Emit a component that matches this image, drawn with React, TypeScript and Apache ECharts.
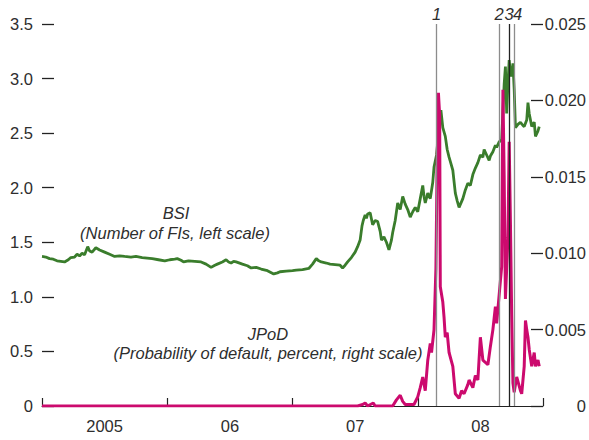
import React, { useEffect, useRef } from "react";
import * as echarts from "echarts";

// X positions are decimal years
const yearLabels = ["2005", "06", "07", "08"];

const bsiT = [
  2005.0, 2005.03, 2005.06, 2005.09, 2005.12, 2005.15, 2005.18, 2005.21, 2005.23, 2005.26,
  2005.28, 2005.3, 2005.32, 2005.34, 2005.365, 2005.38, 2005.4, 2005.43, 2005.46, 2005.5,
  2005.54, 2005.58, 2005.62, 2005.66, 2005.71, 2005.75, 2005.8, 2005.84, 2005.88, 2005.93,
  2005.98, 2006.02, 2006.06, 2006.08, 2006.11, 2006.13, 2006.17, 2006.22, 2006.27, 2006.31,
  2006.35, 2006.38, 2006.4, 2006.44, 2006.47, 2006.49, 2006.51, 2006.53, 2006.55, 2006.6,
  2006.64, 2006.67, 2006.71, 2006.75, 2006.8, 2006.85, 2006.88, 2006.9, 2006.95, 2007.0,
  2007.03, 2007.08, 2007.13, 2007.16, 2007.19, 2007.21, 2007.23, 2007.27, 2007.3, 2007.34,
  2007.38, 2007.4, 2007.42, 2007.44, 2007.47, 2007.5, 2007.52, 2007.54, 2007.555, 2007.565,
  2007.58, 2007.59, 2007.6, 2007.62, 2007.64, 2007.66, 2007.68, 2007.7, 2007.71, 2007.73,
  2007.75, 2007.77, 2007.79, 2007.8, 2007.82, 2007.84, 2007.86, 2007.88, 2007.9, 2007.92,
  2007.94, 2007.96, 2007.98, 2008.0, 2008.02, 2008.04, 2008.05, 2008.06, 2008.08, 2008.1,
  2008.12, 2008.13, 2008.15, 2008.16, 2008.17, 2008.185, 2008.2, 2008.22, 2008.235, 2008.25,
  2008.265, 2008.28, 2008.3, 2008.315, 2008.33, 2008.36, 2008.38, 2008.4, 2008.42, 2008.44,
  2008.46, 2008.48, 2008.5, 2008.52, 2008.53, 2008.55, 2008.57, 2008.58, 2008.6, 2008.62,
  2008.63, 2008.65, 2008.67, 2008.68, 2008.69, 2008.7, 2008.705, 2008.71, 2008.72, 2008.73,
  2008.74, 2008.75, 2008.76, 2008.77, 2008.78, 2008.8, 2008.82, 2008.84, 2008.85, 2008.87,
  2008.88, 2008.89, 2008.9, 2008.91, 2008.93, 2008.94, 2008.96, 2008.97,
];
const bsiV = [
  1.37, 1.365, 1.35, 1.345, 1.33, 1.325, 1.32, 1.34, 1.36, 1.365,
  1.39, 1.375, 1.4, 1.385, 1.46, 1.42, 1.41, 1.45, 1.43, 1.41,
  1.39, 1.37, 1.375, 1.37, 1.365, 1.37, 1.36, 1.355, 1.35, 1.34,
  1.33, 1.34, 1.345, 1.35, 1.335, 1.32, 1.33, 1.325, 1.32, 1.3,
  1.27, 1.29, 1.3, 1.32, 1.34, 1.32, 1.31, 1.325, 1.32, 1.3,
  1.285, 1.265, 1.27, 1.255, 1.24, 1.21, 1.22, 1.23, 1.235, 1.24,
  1.245, 1.25, 1.26, 1.3, 1.35, 1.33, 1.32, 1.31, 1.3, 1.295,
  1.29, 1.265, 1.29, 1.32, 1.36, 1.41, 1.46, 1.52, 1.65, 1.7,
  1.75, 1.72, 1.76, 1.77, 1.66, 1.7, 1.69, 1.6, 1.52, 1.55,
  1.5, 1.43, 1.52, 1.59, 1.7, 1.86, 1.8, 1.92, 1.85, 1.8,
  1.73, 1.78, 1.82, 1.78, 1.9, 2.02, 1.92, 1.86, 1.95, 1.9,
  2.05, 2.19, 2.3, 2.42, 2.55, 2.71, 2.55, 2.47, 2.35, 2.28,
  2.22, 2.16, 1.95, 1.88, 1.82, 1.9, 1.98, 2.04, 2.02, 2.12,
  2.18, 2.23, 2.3, 2.28, 2.35, 2.3, 2.25, 2.29, 2.33, 2.39,
  2.37, 2.42, 2.44, 2.7, 2.95, 3.11, 2.9, 2.68, 2.95, 3.17,
  3.05, 3.02, 3.14, 2.9, 2.55, 2.58, 2.6, 2.57, 2.56, 2.62,
  2.78, 2.68, 2.62, 2.56, 2.6, 2.47, 2.52, 2.56,
];

const jpodT = [
  2005.0, 2007.52, 2007.56, 2007.58, 2007.6, 2007.645, 2007.66, 2007.8, 2007.83, 2007.86,
  2007.88, 2007.9, 2007.97, 2008.0, 2008.02, 2008.04, 2008.06, 2008.08, 2008.1, 2008.11,
  2008.13, 2008.145, 2008.155, 2008.165, 2008.175, 2008.18, 2008.2, 2008.21, 2008.22, 2008.235,
  2008.25, 2008.28, 2008.3, 2008.33, 2008.35, 2008.37, 2008.4, 2008.41, 2008.44, 2008.46,
  2008.48, 2008.5, 2008.52, 2008.56, 2008.58, 2008.6, 2008.62, 2008.63, 2008.66, 2008.67,
  2008.68, 2008.69, 2008.7, 2008.72, 2008.73, 2008.74, 2008.75, 2008.76, 2008.77, 2008.79,
  2008.82, 2008.83, 2008.85, 2008.86, 2008.87, 2008.88, 2008.89, 2008.91, 2008.93, 2008.94,
  2008.96, 2008.97,
];
const jpodV = [
  0, 0, 0.0001, 0.0002, 0, 0.0002, 0, 0, 0.0004, 0.0007,
  0.0003, 0.0001, 0.0001, 0.0006, 0.0012, 0.0019, 0.001, 0.003, 0.0041, 0.0035,
  0.005, 0.009, 0.016, 0.0205, 0.019, 0.0078, 0.0068, 0.0058, 0.0045, 0.0048,
  0.0035, 0.0026, 0.0008, 0.0005, 0.001, 0.0008, 0.0014, 0.0017, 0.0012, 0.002,
  0.0017, 0.0045, 0.003, 0.0027, 0.0039, 0.005, 0.0065, 0.0054, 0.0082, 0.0091,
  0.0207, 0.015, 0.007, 0.011, 0.0173, 0.012, 0.006, 0.0015, 0.0009, 0.0019,
  0.001, 0.0008, 0.0026, 0.0056, 0.005, 0.0045, 0.0037, 0.0026, 0.0035, 0.0026,
  0.003, 0.0026,
];

const eventNames = ["1", "2", "3", "4"];
const eventT = [2008.151, 2008.647, 2008.734, 2008.77];

const FONT = "'Liberation Sans', Arial, sans-serif";
const TXT = "#2e2e2e";

export default function App() {
  const ref = useRef<HTMLDivElement>(null);
  useEffect(() => {
    if (!ref.current) return;
    const chart = echarts.init(ref.current, null, { renderer: "svg" });
    const bsi = bsiT.map((t, i) => [t, bsiV[i]]);
    const jpod = jpodT.map((t, i) => [t, jpodV[i]]);
    const eventStyles = [
      { color: "#8c8c8c", pad: [0, 0, 0, 0] },
      { color: "#8c8c8c", pad: [0, 0, 0, 0] },
      { color: "#222222", pad: [0, 0, 0, 0] },
      { color: "#8c8c8c", pad: [0, 0, 0, 7] },
    ];
    const italic = `italic 16.5px ${FONT}`;
    chart.setOption({
      animation: false,
      textStyle: { fontFamily: FONT },
      grid: { left: 42, right: 43, top: 24, bottom: 34 },
      xAxis: [
        {
          type: "value",
          min: 2005,
          max: 2009,
          interval: 1,
          axisLine: { show: true, lineStyle: { color: "#222", width: 1 } },
          axisTick: { show: true, inside: true, length: 8, lineStyle: { color: "#222", width: 1.2 } },
          axisLabel: { show: false },
          splitLine: { show: false },
        },
        {
          type: "category",
          data: yearLabels,
          boundaryGap: true,
          position: "bottom",
          axisLine: { show: false },
          axisTick: { show: false },
          axisLabel: { margin: 11, fontSize: 16.5, color: TXT, fontFamily: FONT },
          splitLine: { show: false },
        },
      ],
      yAxis: [
        {
          type: "value",
          min: 0,
          max: 3.5,
          interval: 0.5,
          position: "left",
          axisLine: { show: false },
          axisTick: { show: true, inside: true, length: 12, lineStyle: { color: "#222", width: 1.3 } },
          axisLabel: {
            margin: 9,
            fontSize: 16.5,
            color: TXT,
            fontFamily: FONT,
            formatter: (v: number) => (v === 0 ? "0" : v.toFixed(1)),
          },
          splitLine: { show: false },
        },
        {
          type: "value",
          min: 0,
          max: 0.025,
          interval: 0.005,
          position: "right",
          axisLine: { show: false },
          axisTick: { show: true, inside: true, length: 12, lineStyle: { color: "#222", width: 1.3 } },
          axisLabel: {
            margin: 43,
            align: "right",
            fontSize: 16.5,
            color: TXT,
            fontFamily: FONT,
            formatter: (v: number) => (v === 0 ? "0" : v.toFixed(3)),
          },
          splitLine: { show: false },
        },
      ],
      graphic: [
        {
          type: "text",
          x: 176,
          y: 213,
          style: { text: "BSI", font: italic, fill: TXT, align: "center", verticalAlign: "middle" },
        },
        {
          type: "text",
          x: 175,
          y: 233,
          style: { text: "(Number of FIs, left scale)", font: italic, fill: TXT, align: "center", verticalAlign: "middle" },
        },
        {
          type: "text",
          x: 268,
          y: 334,
          style: { text: "JPoD", font: italic, fill: TXT, align: "center", verticalAlign: "middle" },
        },
        {
          type: "text",
          x: 268,
          y: 353,
          style: { text: "(Probability of default, percent, right scale)", font: italic, fill: TXT, align: "center", verticalAlign: "middle" },
        },
      ],
      series: [
        {
          name: "events",
          type: "line",
          xAxisIndex: 0,
          yAxisIndex: 0,
          data: [],
          z: 1,
          markLine: {
            silent: true,
            symbol: ["none", "none"],
            lineStyle: { type: "solid", width: 1.3, color: "#8c8c8c" },
            label: {
              show: true,
              position: "end",
              distance: 2,
              fontSize: 16.5,
              fontStyle: "italic",
              color: TXT,
              fontFamily: FONT,
            },
            data: eventT.map((t, i) => ({
              xAxis: t,
              name: eventNames[i],
              lineStyle: { color: eventStyles[i].color },
              label: {
                formatter: `{a|${eventNames[i]}}`,
                rich: {
                  a: {
                    fontSize: 16.5,
                    fontStyle: "italic",
                    color: TXT,
                    fontFamily: FONT,
                    padding: eventStyles[i].pad,
                  },
                },
              },
            })),
          },
        },
        {
          name: "BSI",
          type: "line",
          xAxisIndex: 0,
          yAxisIndex: 0,
          data: bsi,
          showSymbol: false,
          symbol: "none",
          z: 2,
          lineStyle: { color: "#3a7d2c", width: 2.8 },
        },
        {
          name: "JPoD",
          type: "line",
          xAxisIndex: 0,
          yAxisIndex: 1,
          data: jpod,
          showSymbol: false,
          symbol: "none",
          z: 3,
          lineStyle: { color: "#cc0a6e", width: 3 },
        },
      ],
    });
    return () => chart.dispose();
  }, []);
  return (
    <div
      ref={ref}
      style={{ position: "fixed", left: 0, top: 0, width: 589, height: 440, background: "#fff" }}
    />
  );
}
